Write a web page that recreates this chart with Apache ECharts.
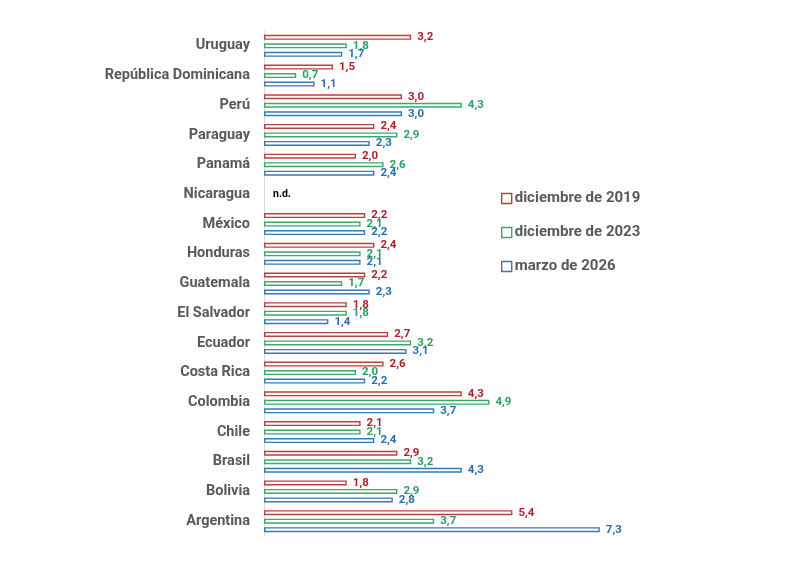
<!DOCTYPE html>
<html>
<head>
<meta charset="utf-8">
<script src="https://cdn.jsdelivr.net/npm/echarts@6/dist/echarts.min.js"></script>
<style>
  html, body { margin: 0; padding: 0; background: #fff; }
  #chart { width: 790px; height: 577px; }
</style>
</head>
<body>
<div id="chart"></div>
<script>
// countries, top to bottom as in the picture
var countries = ['Uruguay', 'República Dominicana', 'Perú', 'Paraguay', 'Panamá', 'Nicaragua',
  'México', 'Honduras', 'Guatemala', 'El Salvador', 'Ecuador', 'Costa Rica', 'Colombia',
  'Chile', 'Brasil', 'Bolivia', 'Argentina'];
// null = n.d.
var dic2019 = [3.2, 1.5, 3.0, 2.4, 2.0, null, 2.2, 2.4, 2.2, 1.8, 2.7, 2.6, 4.3, 2.1, 2.9, 1.8, 5.4];
var dic2023 = [1.8, 0.7, 4.3, 2.9, 2.6, null, 2.1, 2.1, 1.7, 1.8, 3.2, 2.0, 4.9, 2.1, 3.2, 2.9, 3.7];
var mar2026 = [1.7, 1.1, 3.0, 2.3, 2.4, null, 2.2, 2.1, 2.3, 1.4, 3.1, 2.2, 3.7, 2.4, 4.3, 2.8, 7.3];
var seriesNames = ['diciembre de 2019', 'diciembre de 2023', 'marzo de 2026'];

var borderColors = ['#b8413f', '#3aa96b', '#3a78b5'];
var labelColors = ['#b0202a', '#27a060', '#2a6fb0'];

function fmt(v) { return v.toFixed(1).replace('.', ','); }

function makeSeries(name, values, idx) {
  var data = values.map(function (v) {
    if (v === null) {
      // Nicaragua: no data, only the middle bar carries the "n.d." text
      return {
        value: 0,
        itemStyle: { borderWidth: 0, color: 'transparent' },
        label: { show: idx === 1, formatter: 'n.d.', color: '#000', fontSize: 10.5, offset: [3, 0] }
      };
    }
    return v;
  });
  return {
    name: name,
    type: 'bar',
    data: data,
    barWidth: 5,
    barGap: '70%',
    itemStyle: { color: '#fff', borderColor: borderColors[idx], borderWidth: 1.4 },
    label: {
      show: true,
      position: 'right',
      distance: 6,
      color: labelColors[idx],
      fontWeight: 'bold',
      fontSize: 11.5,
      fontFamily: 'Roboto',
      formatter: function (p) { return fmt(p.value); }
    },
    emphasis: { disabled: true }
  };
}

var chart = echarts.init(document.getElementById('chart'));
chart.setOption({
  animation: false,
  backgroundColor: '#fff',
  grid: { left: 264, top: 31, width: 368, height: 505, containLabel: false },
  legend: {
    orient: 'vertical',
    left: 496,
    top: 186,
    itemWidth: 10,
    itemHeight: 10,
    itemGap: 19,
    icon: 'rect',
    textStyle: { color: '#595959', fontWeight: 'bold', fontSize: 15, fontFamily: 'Roboto', padding: [0, 0, 0, -2] },
    data: seriesNames.map(function (n, i) {
      return { name: n, itemStyle: { color: '#fff', borderColor: borderColors[i], borderWidth: 1.4 } };
    })
  },
  xAxis: { type: 'value', min: 0, max: 8, show: false },
  yAxis: {
    type: 'category',
    inverse: true,
    data: countries,
    axisLine: { lineStyle: { color: '#d9d9d9' } },
    axisTick: { length: 5, lineStyle: { color: '#d9d9d9' } },
    axisLabel: { margin: 14, color: '#595959', fontWeight: 'bold', fontSize: 14.5, fontFamily: 'Roboto' }
  },
  series: [
    makeSeries(seriesNames[0], dic2019, 0),
    makeSeries(seriesNames[1], dic2023, 1),
    makeSeries(seriesNames[2], mar2026, 2)
  ]
});
</script>
</body>
</html>
